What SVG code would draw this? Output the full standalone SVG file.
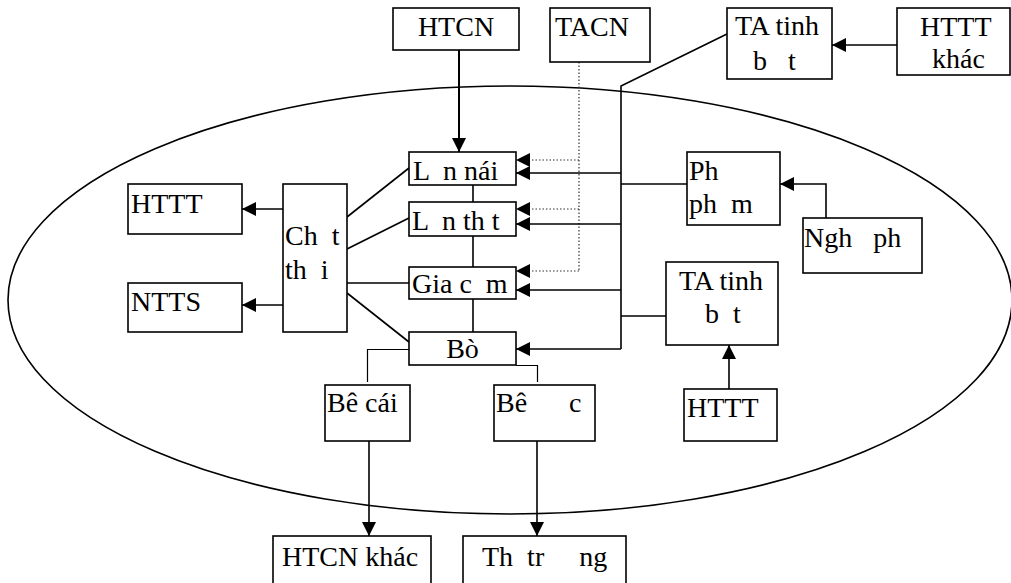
<svg xmlns="http://www.w3.org/2000/svg" width="1011" height="583" viewBox="0 0 1011 583">
<style>
.box{fill:#fff;stroke:#000;stroke-width:1.6}
.t{font-family:"Liberation Serif","Times New Roman",serif;font-size:28px;fill:#000;white-space:pre}
.c{fill:none;stroke:#000;stroke-width:1.6}
.d{fill:none;stroke:#333;stroke-width:1.2;stroke-dasharray:1.5 2}
.a{marker-end:url(#ah)}
</style>
<defs>
<marker id="ah" viewBox="0 0 14 14" refX="14" refY="7" markerWidth="14" markerHeight="14" orient="auto" markerUnits="userSpaceOnUse">
<path d="M0,0 L14,7 L0,14 z" fill="#000"/>
</marker>
</defs>
<rect width="1011" height="583" fill="#fff"/>
<ellipse id="system" cx="510" cy="300" rx="502" ry="214" fill="none" stroke="#000" stroke-width="1.6"/>
<g id="connectors">
<line class="c a" x1="459" y1="50" x2="459" y2="152" style="stroke-width:2"/>
<polyline class="d" points="579,55 579,271"/>
<line class="d a" x1="579" y1="160" x2="516" y2="160"/>
<line class="d a" x1="579" y1="209" x2="516" y2="209"/>
<line class="d a" x1="579" y1="271" x2="516" y2="271"/>
<polyline class="c" points="729,33 621,86 621,349"/>
<line class="c a" x1="621" y1="173" x2="516" y2="173"/>
<line class="c a" x1="621" y1="224" x2="516" y2="224"/>
<line class="c a" x1="621" y1="290" x2="516" y2="290"/>
<line class="c a" x1="621" y1="349" x2="516" y2="349"/>
<line class="c" x1="621" y1="184" x2="687" y2="184"/>
<line class="c" x1="621" y1="316" x2="666" y2="316"/>
<polyline class="c a" points="826,218 826,184 780,184"/>
<line class="c a" x1="897" y1="45" x2="832" y2="45"/>
<line class="c a" x1="729" y1="389" x2="729" y2="345"/>
<line class="c" x1="473" y1="185" x2="473" y2="202"/>
<line class="c" x1="473" y1="236" x2="473" y2="267"/>
<line class="c" x1="473" y1="299" x2="473" y2="332"/>
<line class="c" x1="347" y1="217" x2="409" y2="168"/>
<line class="c" x1="347" y1="249" x2="409" y2="218"/>
<line class="c" x1="347" y1="283" x2="409" y2="283"/>
<line class="c" x1="347" y1="293" x2="409" y2="342"/>
<line class="c a" x1="283" y1="209" x2="242" y2="209"/>
<line class="c a" x1="283" y1="305" x2="242" y2="305"/>
<polyline class="c" points="409,349.5 367.5,349.5 367.5,382" style="stroke-width:1.2"/>
<polyline class="c" points="516,365.5 537.5,365.5 537.5,382" style="stroke-width:1.2"/>
<line class="c a" x1="369" y1="441" x2="369" y2="536"/>
<line class="c a" x1="537" y1="441" x2="537" y2="536"/>
</g>
<g id="htcn"><rect class="box" x="393" y="8" width="126" height="42"/><text class="t" x="456" y="36" text-anchor="middle">HTCN</text></g>
<g id="tacn"><rect class="box" x="550" y="8" width="100" height="54"/><text class="t" x="555" y="36">TACN</text></g>
<g id="ta-tinh-bot-top"><rect class="box" x="727" y="8" width="105" height="71"/><text class="t" x="735" y="35">TA tinh</text><text class="t" x="753" y="70">b   t</text></g>
<g id="httt-khac"><rect class="box" x="897" y="8" width="113" height="67"/><text class="t" x="920" y="36">HTTT</text><text class="t" x="932" y="68">khác</text></g>
<g id="lon-nai"><rect class="box" x="409" y="152" width="107" height="33"/><text class="t" x="413" y="180">L  n nái</text></g>
<g id="lon-thit"><rect class="box" x="409" y="202" width="107" height="34"/><text class="t" x="412" y="230">L  n th t</text></g>
<g id="gia-cam"><rect class="box" x="409" y="267" width="107" height="32"/><text class="t" x="412" y="293">Gia c  m</text></g>
<g id="bo"><rect class="box" x="409" y="332" width="107" height="33"/><text class="t" x="462.5" y="358" text-anchor="middle">Bò</text></g>
<g id="chat-thai"><rect class="box" x="283" y="184" width="64" height="148"/><text class="t" x="285" y="245">Ch  t</text><text class="t" x="285" y="279">th  i</text></g>
<g id="httt-left"><rect class="box" x="128" y="184" width="114" height="50"/><text class="t" x="131" y="213">HTTT</text></g>
<g id="ntts"><rect class="box" x="128" y="283" width="114" height="49"/><text class="t" x="131" y="311">NTTS</text></g>
<g id="phu-pham"><rect class="box" x="687" y="152" width="93" height="73"/><text class="t" x="689" y="180">Ph</text><text class="t" x="689" y="213">ph  m</text></g>
<g id="nghe-phu"><rect class="box" x="803" y="218" width="119" height="55"/><text class="t" x="804" y="247">Ngh   ph</text></g>
<g id="ta-tinh-bot-low"><rect class="box" x="666" y="262" width="112" height="83"/><text class="t" x="679" y="290">TA tinh</text><text class="t" x="705" y="323">b  t</text></g>
<g id="httt-bottom"><rect class="box" x="684" y="389" width="93" height="52"/><text class="t" x="687" y="417">HTTT</text></g>
<g id="be-cai"><rect class="box" x="325" y="385" width="85" height="56"/><text class="t" x="327" y="412">Bê cái</text></g>
<g id="be-duc"><rect class="box" x="494" y="385" width="101" height="56"/><text class="t" x="496" y="412">Bê      c</text></g>
<g id="htcn-khac"><rect class="box" x="273" y="536" width="158" height="60"/><text class="t" x="282" y="566">HTCN khác</text></g>
<g id="thi-truong"><rect class="box" x="463" y="536" width="163" height="60"/><text class="t" x="482" y="566">Th  tr     ng</text></g>
</svg>
